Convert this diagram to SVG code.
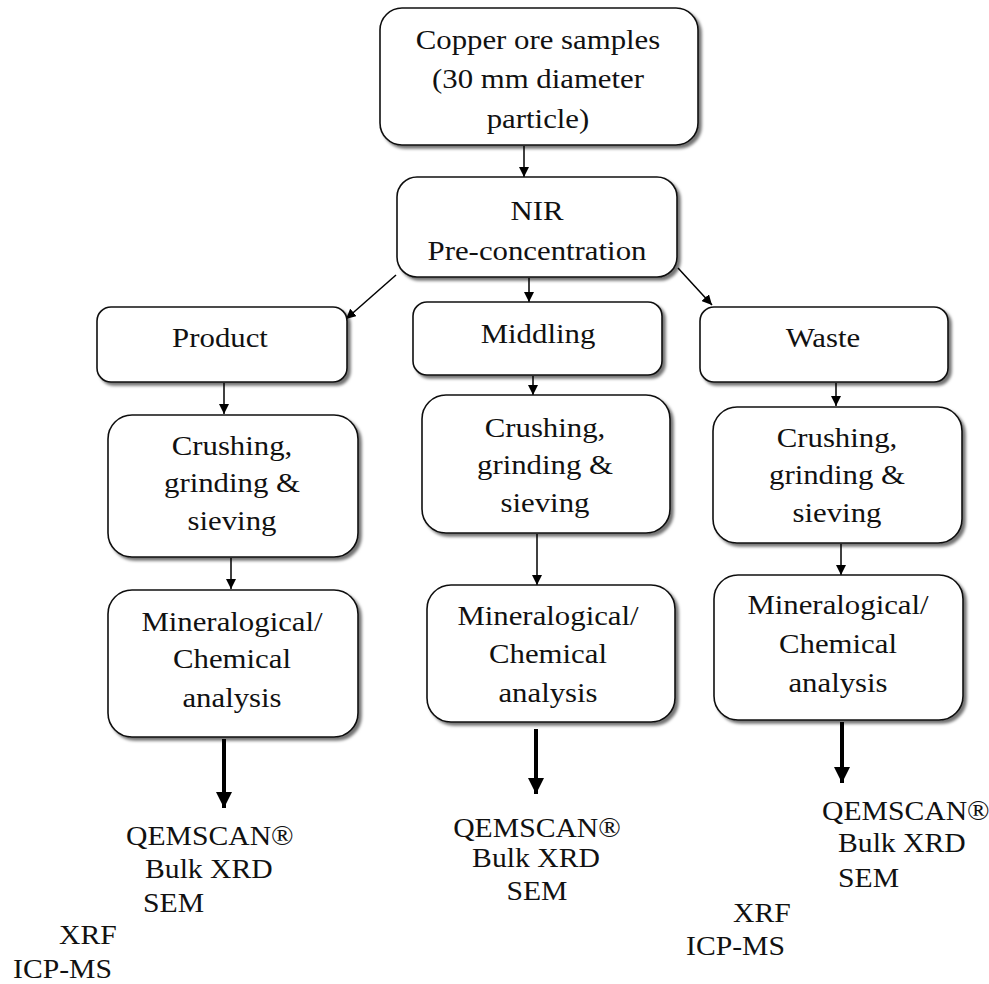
<svg xmlns="http://www.w3.org/2000/svg" width="989" height="984" viewBox="0 0 989 984">
<defs>
<filter id="sh" x="-10%" y="-10%" width="125%" height="130%">
<feDropShadow dx="3" dy="3" stdDeviation="1.5" flood-color="#000" flood-opacity="0.55"/>
</filter>
<marker id="ah" viewBox="0 0 10 10" refX="10" refY="5" markerWidth="10" markerHeight="10" markerUnits="userSpaceOnUse" orient="auto">
<path d="M0,0 L10,5 L0,10 z" fill="#000"/>
</marker>
<marker id="ahb" viewBox="0 0 10 10" refX="10" refY="5" markerWidth="4" markerHeight="4" orient="auto">
<path d="M0,0 L10,5 L0,10 z" fill="#000"/>
</marker>
</defs>
<style>
.box{fill:#fff;stroke:#111;stroke-width:1.6;filter:url(#sh)}
text{font-family:'Liberation Serif','DejaVu Serif','Times New Roman',serif;font-size:28px;fill:#111}
.c{text-anchor:middle}
.ln{stroke:#000;stroke-width:1.5;fill:none;marker-end:url(#ah)}
.lb{stroke:#000;stroke-width:4;fill:none;marker-end:url(#ahb)}
</style>
<rect width="989" height="984" fill="#fff"/>

<g id="connectors">
<line class="ln" x1="524" y1="146" x2="524" y2="177"/>
<line class="ln" x1="529" y1="278" x2="529" y2="302"/>
<line class="ln" x1="396" y1="275" x2="346" y2="319"/>
<line class="ln" x1="678" y1="268" x2="712" y2="305"/>
<line class="ln" x1="224" y1="383" x2="224" y2="414"/>
<line class="ln" x1="231" y1="558" x2="231" y2="589"/>
<line class="ln" x1="533" y1="376" x2="533" y2="395"/>
<line class="ln" x1="537" y1="534" x2="537" y2="585"/>
<line class="ln" x1="836" y1="383" x2="836" y2="406"/>
<line class="ln" x1="841" y1="544" x2="841" y2="575"/>
<line class="lb" x1="224" y1="739" x2="224" y2="808"/>
<line class="lb" x1="536" y1="729" x2="536" y2="794"/>
<line class="lb" x1="842" y1="722" x2="842" y2="783"/>
</g>

<g id="copper">
<rect class="box" x="380" y="8" width="318" height="137" rx="22"/>
<text class="c" font-family="Liberation Serif, serif" transform="translate(538,49) scale(1.1,1)"><tspan x="0" y="0">Copper ore samples</tspan><tspan x="0" y="39.5">(30 mm diameter</tspan><tspan x="0" y="79">particle)</tspan></text>
</g>

<g id="nir">
<rect class="box" x="397" y="177" width="280" height="100" rx="20"/>
<text class="c" transform="translate(537,220) scale(1.1,1)"><tspan x="0" y="0">NIR</tspan><tspan x="0" y="40">Pre-concentration</tspan></text>
</g>

<g id="product">
<rect class="box" x="97" y="307" width="250" height="75" rx="14"/>
<text class="c" transform="translate(220,347) scale(1.1,1)">Product</text>
</g>

<g id="middling">
<rect class="box" x="413" y="302" width="249" height="73" rx="14"/>
<text class="c" transform="translate(538,343) scale(1.1,1)">Middling</text>
</g>

<g id="waste">
<rect class="box" x="700" y="307" width="248" height="75" rx="14"/>
<text class="c" transform="translate(823,347) scale(1.1,1)">Waste</text>
</g>

<g id="crush-product">
<rect class="box" x="108" y="415" width="250" height="142" rx="24"/>
<text class="c" transform="translate(232,455) scale(1.1,1)"><tspan x="0" y="0">Crushing,</tspan><tspan x="0" y="37.5">grinding &amp;</tspan><tspan x="0" y="75">sieving</tspan></text>
</g>

<g id="crush-middling">
<rect class="box" x="422" y="395" width="248" height="138" rx="24"/>
<text class="c" transform="translate(545,437) scale(1.1,1)"><tspan x="0" y="0">Crushing,</tspan><tspan x="0" y="37.5">grinding &amp;</tspan><tspan x="0" y="75">sieving</tspan></text>
</g>

<g id="crush-waste">
<rect class="box" x="713" y="407" width="249" height="136" rx="24"/>
<text class="c" transform="translate(837,447) scale(1.1,1)"><tspan x="0" y="0">Crushing,</tspan><tspan x="0" y="37.5">grinding &amp;</tspan><tspan x="0" y="75">sieving</tspan></text>
</g>

<g id="analysis-product">
<rect class="box" x="108" y="590" width="250" height="147" rx="24"/>
<text class="c" transform="translate(232,631) scale(1.1,1)"><tspan x="0" y="0">Mineralogical/</tspan><tspan x="0" y="37.5">Chemical</tspan><tspan x="0" y="76">analysis</tspan></text>
</g>

<g id="analysis-middling">
<rect class="box" x="427" y="585" width="248" height="137" rx="24"/>
<text class="c" transform="translate(548,625) scale(1.1,1)"><tspan x="0" y="0">Mineralogical/</tspan><tspan x="0" y="38">Chemical</tspan><tspan x="0" y="77">analysis</tspan></text>
</g>

<g id="analysis-waste">
<rect class="box" x="714" y="575" width="249" height="145" rx="24"/>
<text class="c" transform="translate(838,614) scale(1.1,1)"><tspan x="0" y="0">Mineralogical/</tspan><tspan x="0" y="39">Chemical</tspan><tspan x="0" y="78">analysis</tspan></text>
</g>

<g id="methods-product">
<text transform="translate(126,845) scale(1.06,1)">QEMSCAN®</text>
<text transform="translate(145,878) scale(1.06,1)">Bulk XRD</text>
<text transform="translate(143,912) scale(1.06,1)">SEM</text>
<text transform="translate(59,944) scale(1.06,1)">XRF</text>
<text transform="translate(13,978) scale(1.06,1)">ICP-MS</text>
</g>

<g id="methods-middling">
<text class="c" transform="translate(537,837) scale(1.06,1)">QEMSCAN®</text>
<text class="c" transform="translate(536,867) scale(1.06,1)">Bulk XRD</text>
<text class="c" transform="translate(537,900) scale(1.06,1)">SEM</text>
</g>

<g id="methods-waste">
<text transform="translate(822,820) scale(1.06,1)">QEMSCAN®</text>
<text transform="translate(838,852) scale(1.06,1)">Bulk XRD</text>
<text transform="translate(838,887) scale(1.06,1)">SEM</text>
<text transform="translate(733,922) scale(1.06,1)">XRF</text>
<text transform="translate(686,955) scale(1.06,1)">ICP-MS</text>
</g>
</svg>
